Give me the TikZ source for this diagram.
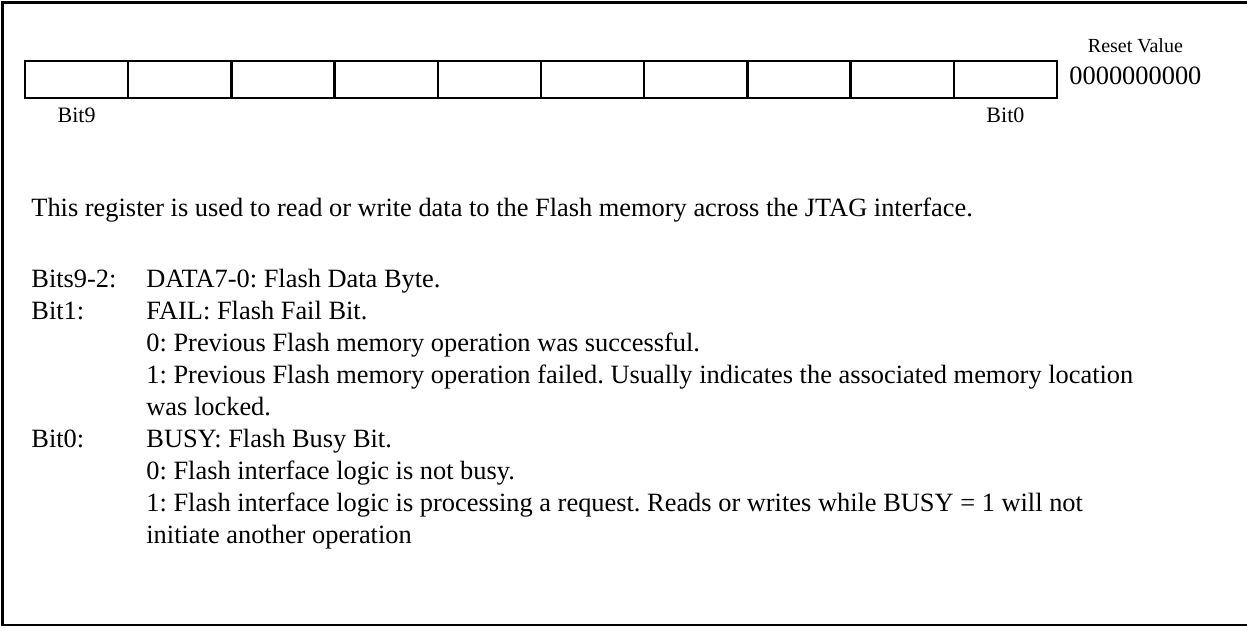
\documentclass[tikz,border=0pt]{standalone}
\usepackage{fontspec}
\setmainfont{Liberation Serif}
\usepackage{tikz}
\usetikzlibrary{positioning}
\tikzset{
  cell/.style={draw,line width=1.25pt,minimum width=51.6pt,minimum height=18.5pt,inner sep=0pt,outer sep=0pt},
  txt/.style={anchor=base west,inner sep=0pt,font=\fontsize{13.2}{15.5}\selectfont\frenchspacing},
  lbl/.style={anchor=base,inner sep=0pt,font=\fontsize{11}{13}\selectfont},
  hdr/.style={anchor=base,inner sep=0pt,font=\fontsize{10}{12}\selectfont},
  frame/.style={line width=1.3pt},
}
\begin{document}
\begin{tikzpicture}[x=0.5pt,y=-0.5pt]
\useasboundingbox (0,0) rectangle (1247,627);
\draw[frame] (1247,2.2) -- (2.2,2.2) -- (2.2,625) -- (1247,625);
% register bits 9..0
\foreach \i in {0,...,9} \node[cell] (b\i) at ({76.6+103.2*(9-\i)},79.5) {};
\node[lbl] (l9) at ([yshift=-12pt]b9.south) {Bit9};
\node[lbl] (l0) at ([yshift=-12pt]b0.south) {Bit0};
\node[txt] (rv) at (1069,84) {0000000000};
\node[hdr] (rvh) at ([yshift=16pt]rv.base) {Reset Value};
% description
\node[txt] (intro) at (31,216) {This register is used to read or write data to the Flash memory across the JTAG interface.};
\node[txt] (f92) at (31,287) {Bits9-2:};
\node[txt] (d92) at (146,287) {DATA7-0: Flash Data Byte.};
\node[txt] (f1) at (31,319) {Bit1:};
\node[txt] (d1) at (146,319) {FAIL: Flash Fail Bit.};
\node[txt] (d1a) at (146,351) {0: Previous Flash memory operation was successful.};
\node[txt] (d1b) at (146,383) {1: Previous Flash memory operation failed. Usually indicates the associated memory location};
\node[txt] (d1c) at (146,415) {was locked.};
\node[txt] (f0) at (31,447) {Bit0:};
\node[txt] (d0) at (146,447) {BUSY: Flash Busy Bit.};
\node[txt] (d0a) at (146,479) {0: Flash interface logic is not busy.};
\node[txt] (d0b) at (146,511) {1: Flash interface logic is processing a request. Reads or writes while BUSY = 1 will not};
\node[txt] (d0c) at (146,543) {initiate another operation};
\end{tikzpicture}
\end{document}
